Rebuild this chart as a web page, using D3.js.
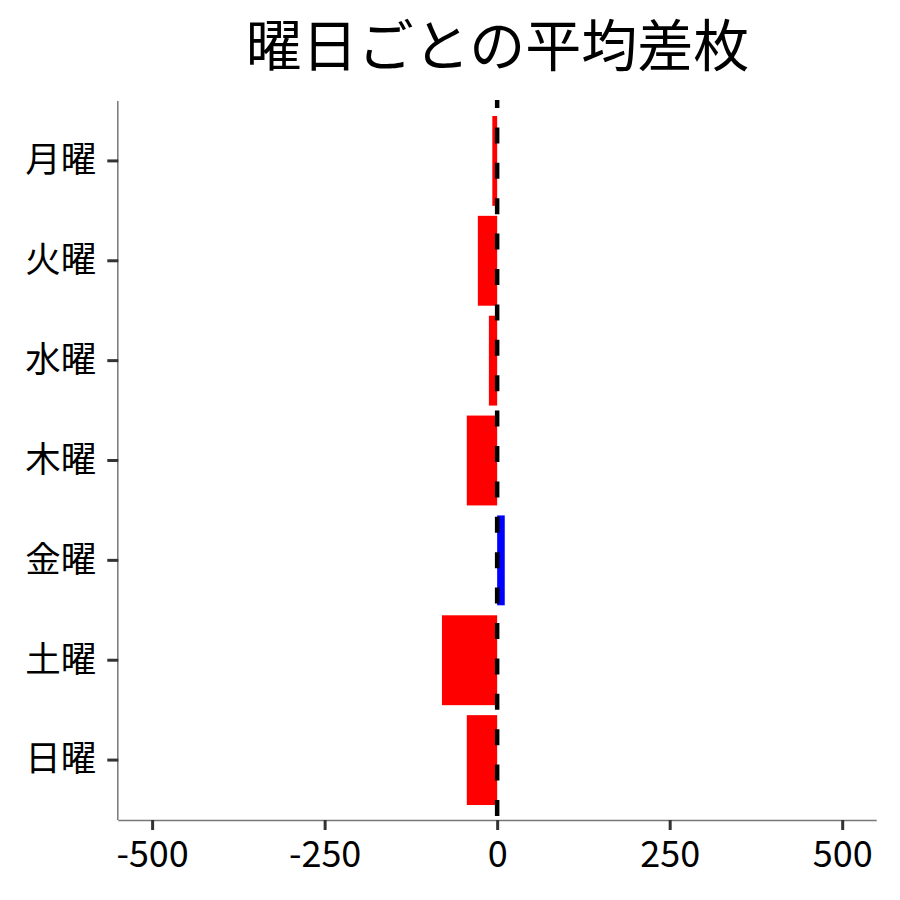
<!DOCTYPE html>
<html><head><meta charset="utf-8">
<script src="https://cdn.jsdelivr.net/npm/d3@7"></script>
<style>body{margin:0;background:#fff}svg{display:block}</style>
</head><body>
<svg id="c" width="900" height="900"></svg>
<script>
const title = "曜日ごとの平均差枚";
const days = ["月曜","火曜","水曜","木曜","金曜","土曜","日曜"];
const values = [-7, -28, -12, -44, 11, -80, -44];
const xTicks = [-500, -250, 0, 250, 500];
const xDomain = [-549, 550];

const font = "'Noto Sans CJK JP', 'Noto Sans', sans-serif";
const svg = d3.select("#c");
const L = 118.3, R = 876.7, T = 101, B = 820;

const x = d3.scaleLinear().domain(xDomain).range([L, R]);
const y = d3.scaleBand().domain(days).range([T, B]).paddingInner(0.1).paddingOuter(0.15);

svg.append("text").attr("x", (L+R)/2).attr("y", 66).attr("text-anchor","middle")
  .attr("font-family", font).attr("font-size", 56).attr("fill","#000").text(title);

svg.append("g").selectAll("rect").data(days).join("rect")
  .attr("x", (d,i) => x(Math.min(0, values[i])))
  .attr("width", (d,i) => Math.abs(x(values[i]) - x(0)))
  .attr("y", d => y(d)).attr("height", y.bandwidth())
  .attr("fill", (d,i) => values[i] >= 0 ? "#0000FF" : "#FF0000");

svg.append("line").attr("x1", x(0)).attr("x2", x(0)).attr("y1", 100).attr("y2", B)
  .attr("stroke","#000").attr("stroke-width",4.5)
  .attr("stroke-dasharray","16,19.4").attr("stroke-dashoffset",8);

// axes
const xa = svg.append("g").attr("transform", `translate(0,${B})`)
  .call(d3.axisBottom(x).tickValues(xTicks).tickSize(10).tickPadding(6).tickFormat(d3.format("d")));
xa.select(".domain").attr("stroke","#777").attr("stroke-width",1.5).attr("d", `M${L},0.5H${R}`);
xa.selectAll(".tick line").attr("stroke","#333").attr("stroke-width",3);
xa.selectAll(".tick text").attr("font-family", font).attr("font-size", 36).attr("fill","#000")
  .attr("y", 47).attr("dy", 0)
  .text(d => d < 0 ? "-" + Math.abs(d) : d);

const ya = svg.append("g").attr("transform", `translate(${L},0)`)
  .call(d3.axisLeft(y).tickSize(11).tickPadding(11));
ya.select(".domain").attr("stroke","#777").attr("stroke-width",1.5).attr("d", `M-0.5,${T}V${B}`);
ya.selectAll(".tick line").attr("stroke","#333").attr("stroke-width",3);
ya.selectAll(".tick text").attr("font-family", font).attr("font-size", 35.5).attr("fill","#000");
</script>
</body></html>
